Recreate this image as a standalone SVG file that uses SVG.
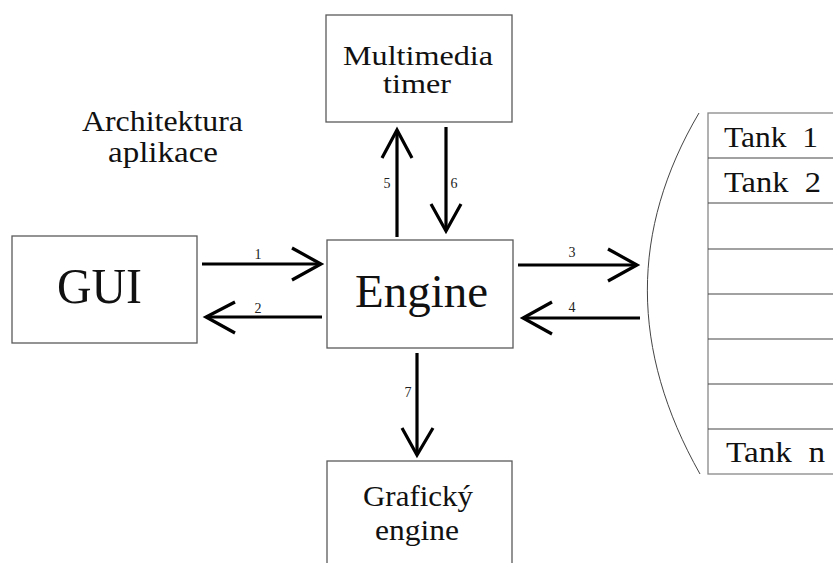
<svg xmlns="http://www.w3.org/2000/svg" width="833" height="563" viewBox="0 0 833 563">
<style>
.box{fill:#fff;stroke:#5a5a5a;stroke-width:1.3}
.t{font-family:"Liberation Serif","Times New Roman",serif;fill:#111}
.n{font-family:"Liberation Serif","Times New Roman",serif;font-size:14px;fill:#222;text-anchor:middle}
.c{fill:none;stroke:#000;stroke-width:3.2}
.h{fill:none;stroke:#000;stroke-width:3.2;stroke-linejoin:miter}
.row{stroke:#444;stroke-width:1.2}
</style>
<rect width="833" height="563" fill="#fff"/>
<g id="title">
<text class="t" x="82" y="131" font-size="29" textLength="161" lengthAdjust="spacingAndGlyphs">Architektura</text>
<text class="t" x="108" y="162" font-size="29" textLength="110" lengthAdjust="spacingAndGlyphs">aplikace</text>
</g>
<g id="timer">
<rect class="box" x="326" y="15" width="186" height="107"/>
<text class="t" x="343" y="65" font-size="28" textLength="150" lengthAdjust="spacingAndGlyphs">Multimedia</text>
<text class="t" x="383" y="93" font-size="28" textLength="68" lengthAdjust="spacingAndGlyphs">timer</text>
</g>
<g id="gui">
<rect class="box" x="12" y="236" width="185" height="107"/>
<text class="t" x="57" y="303" font-size="50" textLength="85" lengthAdjust="spacingAndGlyphs">GUI</text>
</g>
<g id="engine">
<rect class="box" x="327" y="240" width="186" height="108"/>
<text class="t" x="355" y="307" font-size="46" textLength="133" lengthAdjust="spacingAndGlyphs">Engine</text>
</g>
<g id="graficky">
<rect class="box" x="327" y="461" width="185" height="110"/>
<text class="t" x="363" y="506" font-size="30" textLength="110" lengthAdjust="spacingAndGlyphs">Grafický</text>
<text class="t" x="375" y="540" font-size="30" textLength="84" lengthAdjust="spacingAndGlyphs">engine</text>
</g>
<g id="tanks">
<path d="M699,113 C630,230 630,350 700,474" fill="none" stroke="#444" stroke-width="1"/>
<rect x="708" y="113" width="140" height="361" fill="#fff" stroke="#888" stroke-width="1.3"/>
<line class="row" x1="708" y1="158" x2="833" y2="158"/>
<line class="row" x1="708" y1="203" x2="833" y2="203"/>
<line class="row" x1="708" y1="249" x2="833" y2="249"/>
<line class="row" x1="708" y1="294" x2="833" y2="294"/>
<line class="row" x1="708" y1="339" x2="833" y2="339"/>
<line class="row" x1="708" y1="384" x2="833" y2="384"/>
<line class="row" x1="708" y1="429" x2="833" y2="429"/>
<text class="t" x="724" y="147" font-size="30" textLength="94" lengthAdjust="spacingAndGlyphs" xml:space="preserve">Tank  1</text>
<text class="t" x="724" y="192" font-size="30" textLength="97" lengthAdjust="spacingAndGlyphs" xml:space="preserve">Tank  2</text>
<text class="t" x="726" y="462" font-size="30" textLength="99" lengthAdjust="spacingAndGlyphs" xml:space="preserve">Tank  n</text>
</g>
<g id="connectors">
<line class="c" x1="202" y1="264" x2="321" y2="264"/>
<polyline class="h" points="292,248 321,264 292,280"/>
<text class="n" x="258" y="259">1</text>
<line class="c" x1="322" y1="317" x2="206" y2="317"/>
<polyline class="h" points="235,302 206,317 235,333"/>
<text class="n" x="258" y="313">2</text>
<line class="c" x1="518" y1="265" x2="637" y2="265"/>
<polyline class="h" points="608,249 637,265 608,281"/>
<text class="n" x="572" y="257">3</text>
<line class="c" x1="640" y1="318" x2="523" y2="318"/>
<polyline class="h" points="552,302 523,318 552,334"/>
<text class="n" x="572" y="312">4</text>
<line class="c" x1="397" y1="237" x2="397" y2="130"/>
<polyline class="h" points="382,158 397,130 412,158"/>
<text class="n" x="387" y="188">5</text>
<line class="c" x1="446" y1="127" x2="446" y2="231"/>
<polyline class="h" points="431,204 446,231 461,204"/>
<text class="n" x="454" y="188">6</text>
<line class="c" x1="417" y1="353" x2="417" y2="455"/>
<polyline class="h" points="402,428 417,455 433,428"/>
<text class="n" x="408" y="397">7</text>
</g>
</svg>
